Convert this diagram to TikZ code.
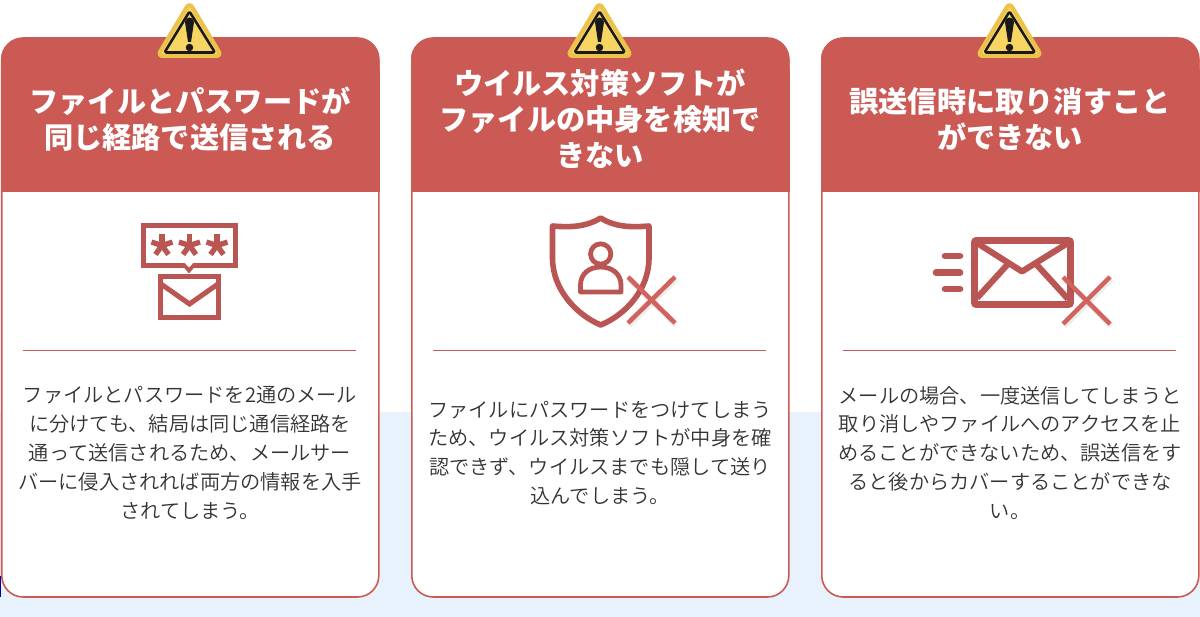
\documentclass[tikz,border=0pt]{standalone}
\usepackage{fontspec}
\usepackage{xcolor}
\newfontfamily\jp{Noto Sans CJK JP}
\newfontfamily\jplight{Noto Sans CJK JP DemiLight}
\definecolor{hd}{HTML}{CB5A55}
\definecolor{ic}{HTML}{B95654}
\definecolor{cr}{HTML}{D2625E}
\definecolor{bg}{HTML}{E8F2FD}
\definecolor{tx}{HTML}{333333}
\definecolor{wy}{HTML}{F7D562}
\definecolor{wo}{HTML}{EBC24A}
\tikzset{
  headtext/.style={text=white,inner sep=0pt,align=center,font=\jp\bfseries\fontsize{21.9}{27}\selectfont},
  bodytext/.style={text=tx,inner sep=0pt,align=center,font=\jplight\fontsize{15.15}{21.7}\selectfont},
  iconline/.style={draw=ic,line width=3.75pt,line join=miter},
  crossline/.style={draw=cr,line width=3.4pt},
  crossshade/.style={draw=black,opacity=0.07,line width=4.5pt}
}
\begin{document}
\begin{tikzpicture}[x=0.75pt,y=-0.75pt]
  \useasboundingbox (0,0) rectangle (1200,617);
  \fill[bg] (0,412) rectangle (1200,617);
  \fill[color=blue!60!black] (0,576) rectangle (1,597);
  % the three cards
  \foreach \cx in {0,410,820}{
    \begin{scope}[shift={(\cx,0)}]
      \fill[white,rounded corners=16pt] (1.8,38) rectangle (378.8,597);
      \fill[hd,rounded corners=16pt] (1,100) -- (1,38) -- (379.5,38) -- (379.5,100) -- cycle;
      \fill[hd] (1,70) rectangle (379.5,192);
      \draw[hd,line width=1.2pt,rounded corners=16pt] (1.8,38) rectangle (378.8,597);
      \draw[hd,line width=0.75pt] (23,350.5) -- (356,350.5);
      % warning sign
      \fill[wy,draw=wo,line width=3pt,line join=round,rounded corners=4pt] (189.5,2.5) -- (221.5,56) -- (157.5,56) -- cycle;
      \draw[black!90,line width=1.9pt,line join=round,rounded corners=1.5pt] (189.5,11.5) -- (215,52.5) -- (164.5,52.5) -- cycle;
      \fill[black!90] (185,22) .. controls (185.5,16) and (193.5,16) .. (194,22) -- (191,42) -- (188,42) -- cycle;
      \fill[black!90] (189.5,47.5) circle (2.8pt);
    \end{scope}
  }
  % titles
  \node[headtext] (titlea) at (190,119) {ファイルとパスワードが\\同じ経路で送信される};
  \node[headtext] (titleb) at (600,118.5) {ウイルス対策ソフトが\\ファイルの中身を検知で\\きない};
  \node[headtext] (titlec) at (1010,119) {誤送信時に取り消すこと\\ができない};
  % texts
  \node[bodytext] (texta) at (190,452.5) {ファイルとパスワードを2通のメール\\に分けても、結局は同じ通信経路を\\通って送信されるため、メールサー\\バーに侵入されれば両方の情報を入手\\されてしまう。};
  \node[bodytext] (textb) at (600,453) {ファイルにパスワードをつけてしまう\\ため、ウイルス対策ソフトが中身を確\\認できず、ウイルスまでも隠して送り\\込んでしまう。};
  \node[bodytext] (textc) at (1010,453) {メールの場合、一度送信してしまうと\\取り消しやファイルへのアクセスを止\\めることができないため、誤送信をす\\ると後からカバーすることができな\\い。};
  % password icon
  \draw[iconline] (143.5,225.5) rectangle (235.5,265.5);
  \fill[ic] (181,264) -- (197,264) -- (189,273.5) -- cycle;
  \fill[white] (185,263.2) -- (193,263.2) -- (189,267.5) -- cycle;
  \draw[iconline] (160.5,276.5) rectangle (218.5,317.5);
  \draw[iconline] (161,284) -- (189.5,304) -- (218,284);
  \foreach \sx in {162,189.5,217}{
    \foreach \ang in {90,162,234,306,18}{
      \draw[ic,line width=4pt] (\sx,245.5) -- ++(\ang:8.3pt);
    }
  }
  % shield icon
  \draw[ic,line width=4.2pt,line join=round] (600.7,218) .. controls (586,227) and (570,227.5) .. (552.5,226) -- (552.5,258) .. controls (552.5,290) and (577,315) .. (600.7,325) .. controls (625,315) and (649,290) .. (649,258) -- (649,226) .. controls (631,227.5) and (615,227) .. (600.7,218) -- cycle;
  \draw[ic,line width=3.6pt] (600.7,254) circle (7.6pt);
  \draw[ic,line width=3.6pt,line join=round] (580.5,292) -- (621,292) -- (621,285) .. controls (621,274) and (612,267) .. (600.7,267) .. controls (589,267) and (580.5,274) .. (580.5,285) -- cycle;
  \draw[crossshade] (629,279) -- (676,325);
  \draw[crossshade] (676,279) -- (629,325);
  \draw[crossline] (628,277) -- (675,323);
  \draw[crossline] (675,277) -- (628,323);
  % mail icon
  \draw[ic,line width=5.2pt,rounded corners=1.5pt] (974.5,240.5) rectangle (1070.5,304.5);
  \draw[ic,line width=4.6pt,line join=round] (977,243) -- (1022,271.5) -- (1068,243);
  \draw[ic,line width=4.6pt] (1008,264) -- (977,298);
  \draw[ic,line width=4.6pt] (1036,264) -- (1068,299);
  \draw[ic,line width=5pt,line cap=round] (945,256) -- (960,256);
  \draw[ic,line width=5pt,line cap=round] (936,272.7) -- (960,272.7);
  \draw[ic,line width=5pt,line cap=round] (945,289) -- (960,289);
  \draw[crossshade] (1064,279) -- (1111,326);
  \draw[crossshade] (1111,279) -- (1064,326);
  \draw[crossline] (1063,277) -- (1110,324);
  \draw[crossline] (1110,277) -- (1063,324);
\end{tikzpicture}
\end{document}
